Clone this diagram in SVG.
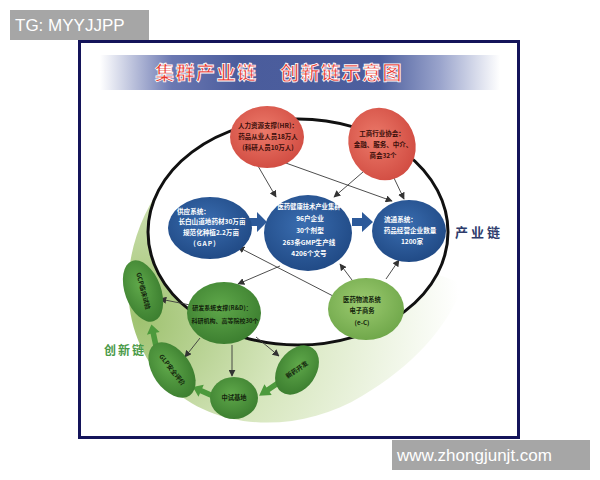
<svg xmlns="http://www.w3.org/2000/svg" xmlns:xlink="http://www.w3.org/1999/xlink" width="600" height="480" viewBox="0 0 600 480">
<defs>
<style>
.cn{font-family:"Noto Sans CJK SC","Noto Sans",sans-serif;font-weight:bold}
.rt{font-size:6.5px;fill:#3a0e0a;text-anchor:middle}
.bt{font-size:6.6px;fill:#ffffff;text-anchor:middle}
.gt{font-size:6.3px;fill:#13240c;text-anchor:middle}
.ln{stroke:#3a3a3a;stroke-width:0.9;fill:none;marker-end:url(#ah)}
.wm{font-family:"Liberation Sans",Arial,sans-serif;font-size:17px;fill:#fff}
</style>
<marker id="ah" viewBox="0 0 10 10" refX="9" refY="5" markerWidth="7" markerHeight="7" orient="auto" markerUnits="userSpaceOnUse"><path d="M0,0 L10,5 L0,10 Z" fill="#333"/></marker>
<linearGradient id="band" x1="0" y1="0" x2="1" y2="0">
<stop offset="0" stop-color="#ffffff"/><stop offset="0.18" stop-color="#6b78b2"/><stop offset="0.35" stop-color="#4a5c9c"/><stop offset="0.7" stop-color="#4d5f9e"/><stop offset="0.85" stop-color="#9aa4cc"/><stop offset="1" stop-color="#ffffff"/>
</linearGradient>
<radialGradient id="cres" cx="140" cy="320" r="320" gradientUnits="userSpaceOnUse">
<stop offset="0" stop-color="#9fc270"/><stop offset="0.45" stop-color="#d6e6bd"/><stop offset="1" stop-color="#ffffff"/>
</radialGradient>
<radialGradient id="red" cx="0.45" cy="0.4" r="0.65"><stop offset="0" stop-color="#ec7a6a"/><stop offset="1" stop-color="#d04a40"/></radialGradient>
<radialGradient id="blue" cx="0.45" cy="0.4" r="0.65"><stop offset="0" stop-color="#3a6db0"/><stop offset="1" stop-color="#1f4883"/></radialGradient>
<radialGradient id="green" cx="0.45" cy="0.4" r="0.65"><stop offset="0" stop-color="#5fa84a"/><stop offset="1" stop-color="#3a7c2e"/></radialGradient>
<radialGradient id="lgreen" cx="0.45" cy="0.4" r="0.65"><stop offset="0" stop-color="#9ccb70"/><stop offset="1" stop-color="#6da548"/></radialGradient>
<path id="garrow" d="M0,-2.8 L13,-2.8 L13,-6.5 L22,0 L13,6.5 L13,2.8 L0,2.8 Z" fill="#4c9a3c"/>
</defs>

<rect width="600" height="480" fill="#ffffff"/>
<g id="watermark-top"><rect x="10" y="10" width="139" height="30" fill="#a6a6a6"/><text class="wm" x="15" y="31">TG: MYYJJPP</text></g>

<rect id="frame" x="79.5" y="41.5" width="439" height="396" fill="#ffffff" stroke="#14145a" stroke-width="3"/>

<g id="title">
<rect x="100" y="55" width="400" height="35" fill="url(#band)"/>
<text class="cn" x="155" y="80" font-size="19" fill="#e8362e" stroke="#ffffff" stroke-width="0.8" letter-spacing="1.5">集群产业链</text>
<text class="cn" x="280" y="80" font-size="19" fill="#e8362e" stroke="#ffffff" stroke-width="0.8" letter-spacing="1.5">创新链示意图</text>
</g>

<g id="innovation-chain-band">
<path d="M168,178 C118,240 112,330 168,385 C215,432 300,434 362,396 C412,366 446,330 464,284 Z" fill="url(#cres)"/>
</g>
<g id="industry-chain-ellipse">
<ellipse cx="298" cy="232" rx="150" ry="113" fill="#ffffff" stroke="#111" stroke-width="3"/>
</g>

<g id="connectors">
<line class="ln" x1="258" y1="166" x2="276" y2="197"/>
<line class="ln" x1="283" y1="162" x2="392" y2="201"/>
<line class="ln" x1="363" y1="172" x2="334" y2="197"/>
<line class="ln" x1="394" y1="178" x2="404" y2="199"/>
<line class="ln" x1="333" y1="296" x2="238" y2="247"/>
<line class="ln" x1="280" y1="266" x2="238" y2="284"/>
<line class="ln" x1="352" y1="280" x2="340" y2="264"/>
<line class="ln" x1="386" y1="279" x2="399" y2="260"/>
<line class="ln" x1="190" y1="305" x2="160" y2="299"/>
<line class="ln" x1="200" y1="338" x2="185" y2="357"/>
<line class="ln" x1="232" y1="345" x2="232" y2="376"/>
<line class="ln" x1="256" y1="337" x2="279" y2="356"/>
<path d="M247,218 L257,218 L257,212 L267,222 L257,232 L257,226 L247,226 Z" fill="#2d5a9a"/>
<path d="M352,218 L362,218 L362,212 L373,222 L362,232 L362,226 L352,226 Z" fill="#2d5a9a"/>
<use href="#garrow" transform="translate(281,381) rotate(146) scale(1.2,1)"/>
<use href="#garrow" transform="translate(213,396) rotate(204)"/>
<use href="#garrow" transform="translate(156,346) rotate(258)"/>
</g>

<g id="hr">
<ellipse cx="267" cy="137" rx="37" ry="31" fill="url(#red)"/>
<text class="cn rt" x="268" y="128">人力资源支撑(HR)：</text>
<text class="cn rt" x="268" y="139">药品从业人员18万人</text>
<text class="cn rt" x="268" y="150">(科研人员10万人)</text>
</g>
<g id="association">
<ellipse cx="382" cy="144" rx="33" ry="37" transform="rotate(-25 382 144)" fill="url(#red)"/>
<text class="cn rt" x="382" y="136">工商行业协会：</text>
<text class="cn rt" x="383" y="147">金融、服务、中介、</text>
<text class="cn rt" x="383" y="158">商会32个</text>
</g>
<g id="supply">
<ellipse cx="210" cy="228" rx="42" ry="31" fill="url(#blue)"/>
<text class="cn bt" x="177" y="214" style="text-anchor:start">供应系统：</text>
<text class="cn bt" x="212" y="224">长白山道地药材30万亩</text>
<text class="cn bt" x="211" y="235">规范化种植2.2万亩</text>
<text class="cn bt" x="205" y="246" letter-spacing="1">(GAP)</text>
</g>
<g id="cluster">
<ellipse cx="308" cy="233" rx="44" ry="38" fill="url(#blue)"/>
<text class="cn bt" x="309" y="209" style="font-size:6.3px">医药健康技术产业集群</text>
<text class="cn bt" x="310" y="221">96户企业</text>
<text class="cn bt" x="310" y="233">30个剂型</text>
<text class="cn bt" x="309" y="245">263条GMP生产线</text>
<text class="cn bt" x="309" y="256">4206个文号</text>
</g>
<g id="distribution">
<ellipse cx="409" cy="231" rx="37" ry="31" fill="url(#blue)"/>
<text class="cn bt" x="384" y="222" style="text-anchor:start">流通系统：</text>
<text class="cn bt" x="410" y="233">药品经营企业数量</text>
<text class="cn bt" x="412" y="244">1200家</text>
</g>
<g id="ecommerce">
<ellipse cx="366" cy="309" rx="38" ry="31" fill="url(#lgreen)"/>
<text class="cn gt" x="362" y="302">医药物流系统</text>
<text class="cn gt" x="362" y="313">电子商务</text>
<text class="cn gt" x="362" y="325">(e-C)</text>
</g>
<g id="rnd">
<ellipse cx="224" cy="313" rx="37" ry="31" fill="url(#green)"/>
<text class="cn gt" x="222" y="310" style="font-size:6px">研发系统支撑(R&amp;D)：</text>
<text class="cn gt" x="225" y="323" style="font-size:6px">科研机构、高等院校30个</text>
</g>
<g id="gcp">
<ellipse cx="143" cy="291" rx="18" ry="32" transform="rotate(-20 143 291)" fill="url(#green)"/>
<text class="cn gt" x="143" y="293" transform="rotate(75 143 291)">GCP临床试验</text>
</g>
<g id="glp">
<ellipse cx="172" cy="370" rx="19" ry="31" transform="rotate(-35 172 370)" fill="url(#green)"/>
<text class="cn gt" x="172" y="372" transform="rotate(52 172 370)">GLP安全评价</text>
</g>
<g id="pilot">
<ellipse cx="234" cy="398" rx="24" ry="21" fill="url(#green)"/>
<text class="cn gt" x="234" y="400">中试基地</text>
</g>
<g id="newdrug">
<ellipse cx="297" cy="370" rx="19" ry="27" transform="rotate(35 297 370)" fill="url(#green)"/>
<text class="cn gt" x="297" y="372" transform="rotate(-35 297 370)">新药开发</text>
</g>

<text class="cn" x="455" y="237" font-size="13" fill="#2e3c6c" letter-spacing="3">产业链</text>
<text class="cn" x="104" y="355" font-size="12" fill="#4a9a48" letter-spacing="2">创新链</text>

<g id="watermark-bottom"><rect x="392" y="440" width="198" height="30" fill="#a6a6a6"/><text class="wm" x="397" y="461">www.zhongjunjt.com</text></g>
</svg>
